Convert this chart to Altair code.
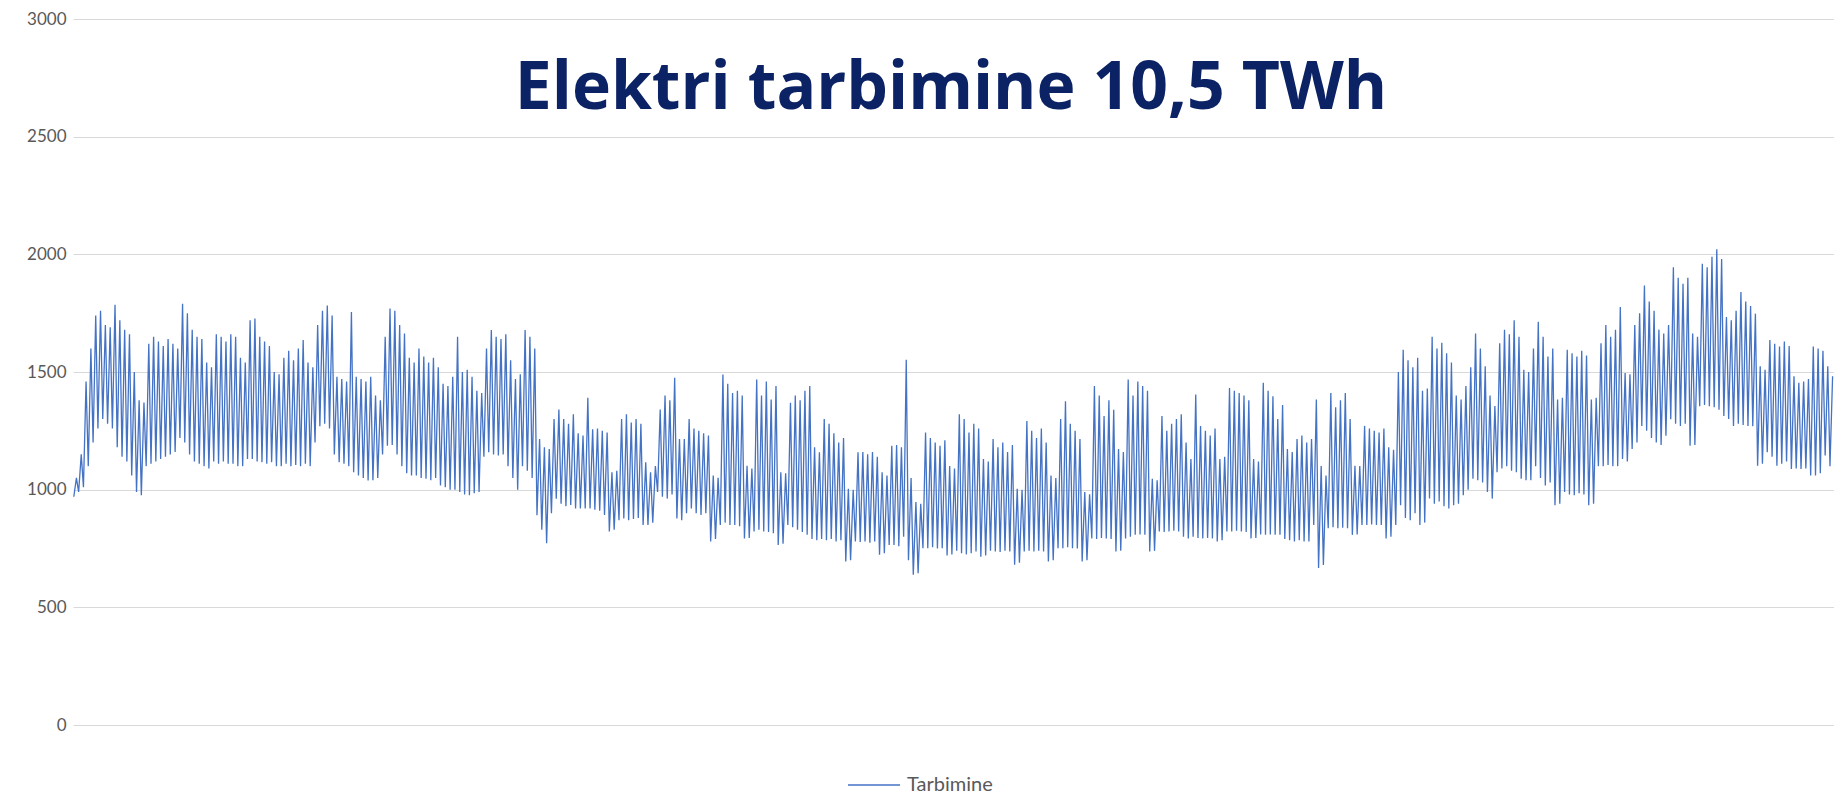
import altair as alt
import pandas as pd

TITLE = "Elektri tarbimine 10,5 TWh"
SERIES = "Tarbimine"
Y_TICKS = [0, 500, 1000, 1500, 2000, 2500, 3000]

# Daily peak (day-time) values, 2023, one per day (Jan 1 .. Dec 31), MW
high = [
    1050,
    1150, 1460, 1600, 1740, 1760, 1700, 1690,
    1786, 1720, 1680, 1660, 1500, 1380, 1370,
    1620, 1650, 1630, 1610, 1640, 1620, 1600,
    1790, 1750, 1680, 1650, 1640, 1540, 1520,
    1660, 1650, 1630, 1660, 1650, 1560, 1540,
    1720, 1727, 1650, 1630, 1610, 1500, 1490,
    1560, 1590, 1550, 1600, 1636, 1540, 1520,
    1700, 1760, 1783, 1740, 1480, 1470, 1460,
    1755, 1480, 1470, 1460, 1480, 1400, 1380,
    1650, 1770, 1760, 1700, 1664, 1560, 1540,
    1600, 1566, 1540, 1560, 1520, 1450, 1440,
    1480, 1650, 1500, 1510, 1480, 1420, 1411,
    1600, 1678, 1650, 1640, 1660, 1550, 1470,
    1490, 1678, 1650, 1600, 1215, 1180, 1173,
    1300, 1341, 1300, 1280, 1320, 1240, 1230,
    1390, 1257, 1260, 1250, 1243, 1074, 1080,
    1300, 1320, 1285, 1300, 1280, 1116, 1074,
    1100, 1341, 1400, 1380, 1475, 1215, 1215,
    1300, 1260, 1250, 1240, 1230, 1060, 1050,
    1489, 1450, 1411, 1420, 1400, 1102, 1090,
    1468, 1400, 1460, 1383, 1440, 1074, 1070,
    1369, 1400, 1380, 1420, 1440, 1180, 1159,
    1300, 1280, 1240, 1200, 1220, 1004, 1000,
    1159, 1160, 1150, 1160, 1140, 1074, 1060,
    1187, 1190, 1180, 1552, 1050, 948, 940,
    1243, 1220, 1200, 1187, 1210, 1100, 1090,
    1320, 1300, 1243, 1280, 1260, 1130, 1120,
    1215, 1180, 1200, 1160, 1190, 1004, 1000,
    1292, 1250, 1220, 1260, 1200, 1060, 1050,
    1300, 1376, 1280, 1250, 1215, 990, 980,
    1440, 1400, 1313, 1380, 1340, 1173, 1160,
    1468, 1400, 1460, 1440, 1420, 1046, 1040,
    1313, 1250, 1280, 1300, 1320, 1200, 1130,
    1404, 1271, 1250, 1230, 1260, 1130, 1140,
    1432, 1420, 1411, 1400, 1380, 1130, 1120,
    1454, 1420, 1397, 1300, 1360, 1173, 1160,
    1215, 1230, 1200, 1215, 1383, 1100, 1060,
    1411, 1350, 1380, 1411, 1300, 1102, 1100,
    1271, 1260, 1250, 1243, 1260, 1180, 1170,
    1500, 1594, 1550, 1520, 1560, 1420, 1430,
    1650, 1600, 1624, 1580, 1540, 1400, 1383,
    1440, 1520, 1664, 1600, 1524, 1400, 1355,
    1622, 1680, 1660, 1720, 1650, 1510, 1500,
    1600, 1713, 1650, 1566, 1600, 1383, 1390,
    1594, 1580, 1566, 1590, 1570, 1383, 1390,
    1622, 1700, 1650, 1680, 1776, 1496, 1490,
    1700, 1750, 1868, 1800, 1760, 1680, 1664,
    1700, 1945, 1900, 1875, 1900, 1664, 1650,
    1960, 1945, 1990, 2022, 1980, 1734, 1720,
    1760, 1840, 1800, 1780, 1748, 1524, 1510,
    1636, 1620, 1608, 1630, 1610, 1482, 1454,
    1460, 1470, 1608, 1600, 1590, 1524, 1482,
]

# Daily night-time minimum values, MW
low = [
    970,
    990, 1010, 1100, 1200, 1260, 1300, 1280,
    1260, 1180, 1140, 1120, 1060, 990, 976,
    1100, 1110, 1120, 1130, 1140, 1150, 1160,
    1220, 1200, 1150, 1120, 1110, 1100, 1090,
    1120, 1110, 1120, 1110, 1110, 1100, 1100,
    1130, 1130, 1120, 1117, 1110, 1117, 1100,
    1100, 1110, 1100, 1105, 1100, 1110, 1100,
    1200, 1270, 1280, 1260, 1150, 1117, 1110,
    1100, 1074, 1060, 1050, 1039, 1040, 1050,
    1150, 1187, 1190, 1150, 1100, 1070, 1060,
    1060, 1050, 1046, 1040, 1050, 1018, 1010,
    1000, 1000, 990, 980, 976, 985, 990,
    1140, 1159, 1150, 1145, 1150, 1100, 1050,
    1000, 1100, 1080, 1050, 891, 830, 772,
    900, 962, 940, 930, 935, 920, 920,
    920, 920, 915, 910, 892, 822, 830,
    870, 878, 870, 875, 880, 850, 850,
    860, 990, 970, 962, 980, 878, 870,
    900, 920, 900, 892, 900, 780, 790,
    850, 860, 850, 850, 845, 793, 795,
    822, 830, 822, 820, 815, 765, 770,
    850, 840, 830, 820, 808, 790, 785,
    790, 785, 790, 780, 785, 695, 700,
    780, 778, 780, 775, 780, 723, 730,
    765, 765, 760, 800, 700, 639, 645,
    751, 751, 755, 750, 751, 720, 725,
    740, 730, 725, 730, 737, 715, 720,
    740, 737, 735, 740, 737, 681, 690,
    737, 740, 737, 740, 737, 695, 700,
    751, 751, 755, 751, 750, 695, 700,
    793, 790, 795, 793, 790, 737, 740,
    793, 800, 808, 810, 808, 737, 740,
    822, 820, 822, 825, 822, 800, 793,
    800, 795, 793, 795, 793, 780, 785,
    822, 822, 825, 822, 820, 793, 795,
    810, 808, 810, 808, 808, 790, 785,
    780, 785, 780, 780, 850, 667, 680,
    836, 840, 836, 838, 836, 808, 810,
    850, 850, 852, 850, 850, 793, 800,
    850, 934, 880, 870, 900, 850, 860,
    962, 940, 950, 930, 920, 934, 940,
    976, 1000, 1046, 1040, 1030, 990, 962,
    1074, 1090, 1100, 1080, 1074, 1046, 1040,
    1040, 1100, 1050, 1018, 1030, 934, 940,
    990, 980, 976, 985, 980, 934, 940,
    1100, 1100, 1105, 1100, 1100, 1130, 1120,
    1173, 1200, 1271, 1250, 1220, 1200, 1190,
    1229, 1299, 1280, 1271, 1280, 1187, 1190,
    1355, 1360, 1355, 1350, 1340, 1313, 1300,
    1271, 1280, 1275, 1271, 1270, 1102, 1110,
    1159, 1140, 1102, 1110, 1120, 1088, 1090,
    1088, 1090, 1060, 1060, 1070, 1145, 1100,
]

assert len(high) == 365 and len(low) == 365

rows = []
for d in range(365):
    rows.append({"hour": 24 * d + 4, "mw": low[d], "series": SERIES})
    rows.append({"hour": 24 * d + 17, "mw": high[d], "series": SERIES})
df = pd.DataFrame(rows)

W, H = 1761, 706

line = alt.Chart(df).mark_line(strokeWidth=1.3, interpolate="linear").encode(
    x=alt.X("hour:Q", scale=alt.Scale(domain=[0, 8760], nice=False, zero=False), axis=None),
    y=alt.Y(
        "mw:Q",
        scale=alt.Scale(domain=[0, 3000], nice=False),
        axis=alt.Axis(
            values=Y_TICKS, format="d", grid=True, gridColor="#D9D9D9", gridWidth=1,
            domain=False, ticks=False, labelColor="#595959", labelFontSize=17,
            labelFont="Lato", labelPadding=7, title=None,
        ),
    ),
    color=alt.Color(
        "series:N",
        scale=alt.Scale(range=["#4472C4"]),
        legend=alt.Legend(
            title=None, orient="none", legendX=774, legendY=739,
            symbolType="stroke", symbolSize=2704, symbolStrokeWidth=1.5,
            labelFontSize=20, labelFont="Lato", labelColor="#595959",
            labelOffset=6,
        ),
    ),
)

title = alt.Chart(pd.DataFrame({"label": [TITLE]})).mark_text(
    font="Open Sans", fontWeight="bold", fontSize=66, color="#0B2265",
    align="center", baseline="alphabetic",
).encode(x=alt.value(878), y=alt.value(90), text="label:N")

chart = alt.layer(line, title).properties(
    width=W, height=H,
    autosize=alt.AutoSizeParams(type="none"),
    padding={"left": 65, "top": 11, "right": 0, "bottom": 70},
).configure_view(strokeWidth=0)

chart.save("out.html", embed_options={"renderer": "svg", "actions": False})
